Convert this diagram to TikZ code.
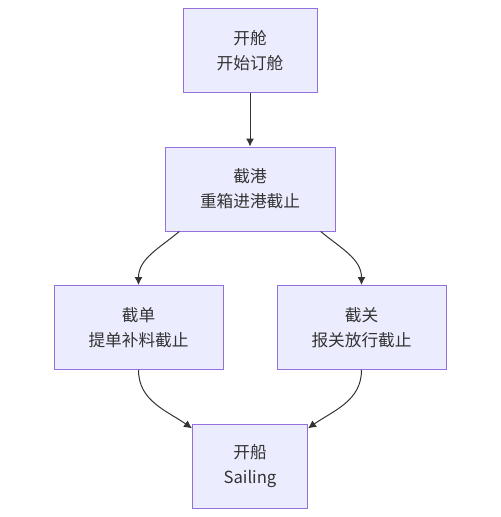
\documentclass[tikz,border=0pt]{standalone}
\usepackage{fontspec}
\setmainfont{Noto Sans CJK SC}
\usepackage{tikz}
\usetikzlibrary{arrows.meta}
\definecolor{boxfill}{HTML}{ECECFF}
\definecolor{boxline}{HTML}{9370DB}
\definecolor{inkgray}{HTML}{333333}

\begin{document}
\begin{tikzpicture}[>={Latex[length=6pt,width=6pt]},x=0.75pt,y=0.75pt,
  stage/.style={draw=boxline,fill=boxfill,line width=0.75pt,text=inkgray,align=center,
    minimum height=63pt,inner sep=0pt,font=\fontsize{12.5}{18.75}\selectfont},
  flow/.style={->,draw=inkgray,line width=0.75pt}]
\useasboundingbox (0,0) rectangle (500,-517);
\node[stage,minimum width=100.5pt] (kaicang) at (250,-50.5) {开舱\\开始订舱};
\node[stage,minimum width=127.5pt] (jiegang) at (250,-189) {截港\\重箱进港截止};
\node[stage,minimum width=126.75pt] (jiedan) at (138.5,-327.5) {截单\\提单补料截止};
\node[stage,minimum width=126.75pt] (jieguan) at (361.5,-327.5) {截关\\报关放行截止};
\node[stage,minimum width=86.25pt] (kaichuan) at (250,-466) {开船\\Sailing};
\draw[flow] (kaicang) -- (jiegang);
\draw[flow] (jiegang.211) to[out=-140,in=90] (jiedan.north);
\draw[flow] (jiegang.329) to[out=-40,in=90] (jieguan.north);
\draw[flow] (jiedan.south) to[out=-90,in=145] (kaichuan.147);
\draw[flow] (jieguan.south) to[out=-90,in=35] (kaichuan.33);
\end{tikzpicture}
\end{document}
